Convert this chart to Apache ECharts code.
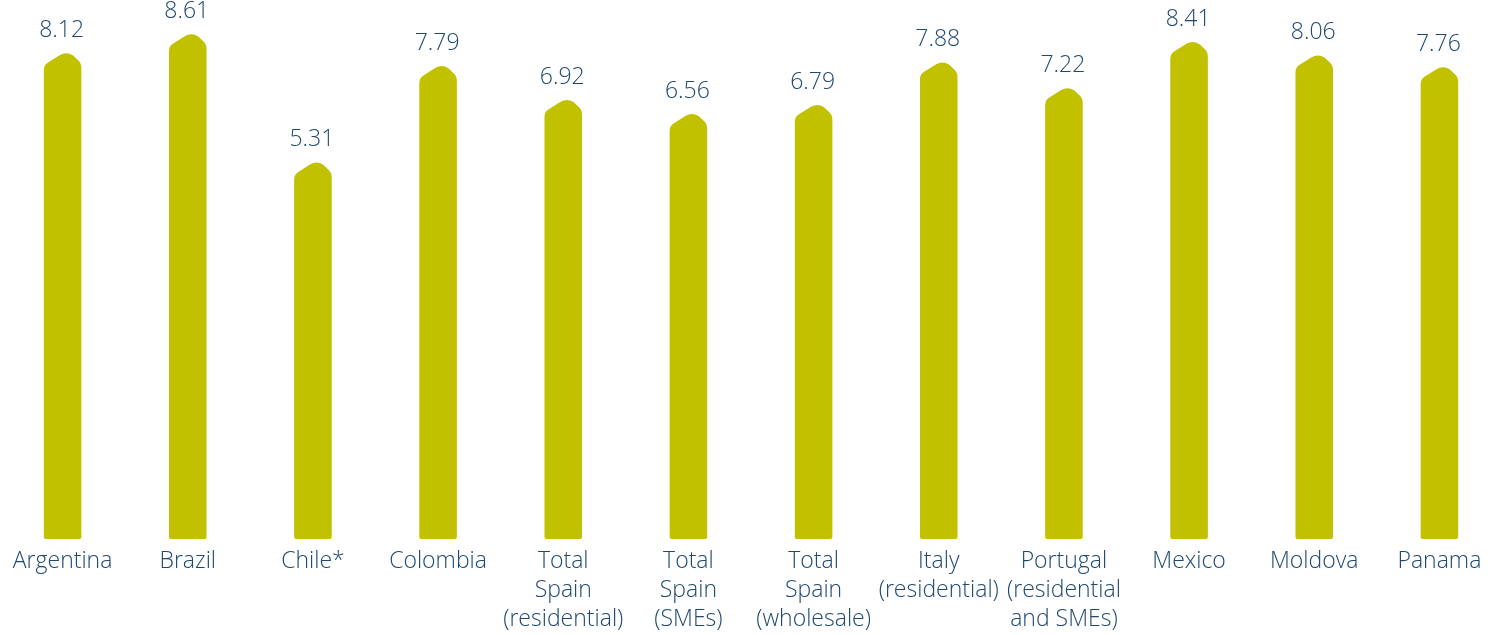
<!DOCTYPE html>
<html>
<head>
<meta charset="utf-8">
<script src="https://cdn.jsdelivr.net/npm/echarts@6/dist/echarts.min.js"></script>
<style>
html,body{margin:0;padding:0;background:#ffffff;}
#chart{width:1502px;height:635px;}
</style>
</head>
<body>
<div id="chart"></div>
<script>
const categories = [
  'Argentina', 'Brazil', 'Chile*', 'Colombia',
  'Total\nSpain\n(residential)', 'Total\nSpain\n(SMEs)', 'Total\nSpain\n(wholesale)',
  'Italy\n(residential)', 'Portugal\n(residential\nand SMEs)', 'Mexico', 'Moldova', 'Panama'
];
const values = [8.12, 8.61, 5.31, 7.79, 6.92, 6.56, 6.79, 7.88, 7.22, 8.41, 8.06, 7.76];

const BAR_COLOR = '#c2c100';
const TEXT_COLOR = '#1e4870';
const FONT = '"Open Sans", "Liberation Sans", Arial, sans-serif';

const chart = echarts.init(document.getElementById('chart'), null, {renderer: 'canvas'});

function renderBar(params, api) {
  const idx = api.value(0);
  const val = api.value(1);
  const top = api.coord([idx, val]);
  const cs = params.coordSys;
  const b = cs.y + cs.height;
  const w = api.size([1, 0])[0] * 0.3;
  const x0 = top[0] - w / 2;
  const x1 = top[0] + w / 2;
  const t = top[1];
  const d = [
    'M', x0, b - 2,
    'L', x0, t + 17,
    'Q', x0, t + 11.5, x0 + 5, t + 9,
    'L', x0 + 0.42 * w, t + 2.2,
    'Q', x0 + 0.6 * w, t - 2, x0 + 0.78 * w, t + 2.5,
    'L', x1 - 3, t + 7.5,
    'Q', x1, t + 10, x1, t + 15,
    'L', x1, b - 2,
    'Q', x1, b, x1 - 2, b,
    'L', x0 + 2, b,
    'Q', x0, b, x0, b - 2,
    'Z'
  ].join(' ');
  return {
    type: 'group',
    children: [
      {
        type: 'path',
        shape: { pathData: d },
        style: { fill: BAR_COLOR }
      },
      {
        type: 'text',
        x: top[0] - 1,
        y: t - 11,
        style: {
          text: val.toFixed(2),
          fill: TEXT_COLOR,
          font: '300 23px ' + FONT,
          textAlign: 'center',
          textVerticalAlign: 'bottom',
          align: 'center',
          verticalAlign: 'bottom'
        }
      }
    ]
  };
}

chart.setOption({
  animation: false,
  backgroundColor: '#ffffff',
  grid: { left: 0, right: -4, top: 0, bottom: 96, containLabel: false },
  xAxis: {
    type: 'category',
    data: categories,
    boundaryGap: true,
    axisLine: { show: false },
    axisTick: { show: false },
    splitLine: { show: false },
    axisLabel: {
      interval: 0,
      margin: 8,
      color: TEXT_COLOR,
      fontSize: 23,
      fontWeight: 300,
      lineHeight: 29,
      fontFamily: FONT,
      align: 'center',
      verticalAlign: 'top'
    }
  },
  yAxis: {
    type: 'value',
    min: -4.369,
    max: 9.483,
    show: false,
    splitLine: { show: false }
  },
  series: [{
    type: 'custom',
    renderItem: renderBar,
    data: values.map((v, i) => [i, v]),
    encode: { x: 0, y: 1 },
    clip: false
  }]
});
</script>
</body>
</html>
